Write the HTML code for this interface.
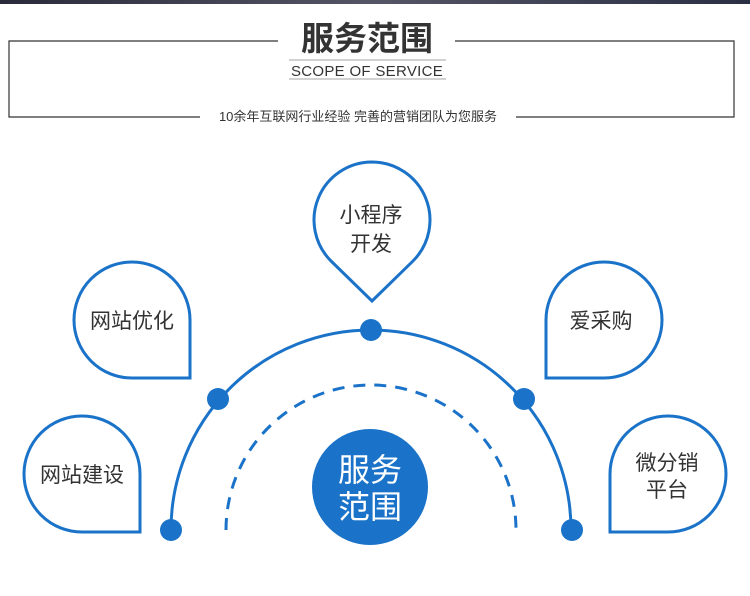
<!DOCTYPE html>
<html><head><meta charset="utf-8"><style>
html,body{margin:0;padding:0;background:#fff;}
body{width:750px;height:596px;overflow:hidden;position:relative;font-family:"Liberation Sans","Noto Sans CJK SC",sans-serif;}
</style></head><body>
<svg width="750" height="596" viewBox="0 0 750 596" xmlns="http://www.w3.org/2000/svg" style="position:absolute;left:0;top:0">
<defs><linearGradient id="g" x1="0" x2="1"><stop offset="0" stop-color="#2a2a3a"/><stop offset="0.5" stop-color="#556"/><stop offset="1" stop-color="#2a2f44"/></linearGradient></defs>
<rect x="0" y="0" width="750" height="4" fill="url(#g)"/>
<g stroke="#333" stroke-width="1.2" fill="none">
<path d="M278 41H9V117H200"/>
<path d="M455 41H734V117H516"/>
<line x1="289" y1="60" x2="446" y2="60" stroke="#888" stroke-width="0.8"/>
<line x1="289" y1="79" x2="446" y2="79" stroke="#888" stroke-width="0.8"/>
</g>
<text x="367" y="50" text-anchor="middle" font-size="33" font-weight="bold" fill="#333" font-family="Noto Sans CJK SC, sans-serif">服务范围</text>
<text x="367" y="76" text-anchor="middle" font-size="15" fill="#333" letter-spacing="0.3">SCOPE  OF  SERVICE</text>
<text x="358" y="121" text-anchor="middle" font-size="13" fill="#333" font-family="Liberation Sans, Noto Sans CJK SC, sans-serif">10余年互联网行业经验  完善的营销团队为您服务</text>

<g stroke="#1a73c8" stroke-width="3" fill="#fff">
<path d="M132 262A58 58 0 0 0 74 320A58 58 0 0 0 132 378H190V320A58 58 0 0 0 132 262Z"/>
<path d="M82 416A58 58 0 0 0 24 474A58 58 0 0 0 82 532H140V474A58 58 0 0 0 82 416Z"/>
<path d="M604 262A58 58 0 0 1 662 320A58 58 0 0 1 604 378H546V320A58 58 0 0 1 604 262Z"/>
<path d="M668 416A58 58 0 0 1 726 474A58 58 0 0 1 668 532H610V474A58 58 0 0 1 668 416Z"/>
<path d="M372 162A58 58 0 0 1 413 261L372 301L331 261A58 58 0 0 1 372 162Z"/>
</g>
<path d="M171 530A200 200 0 0 1 571 530" stroke="#1a73c8" stroke-width="3" fill="none"/>
<path d="M226 530A145 145 0 0 1 516 530" stroke="#1a73c8" stroke-width="3" fill="none" stroke-dasharray="12 9"/>
<g fill="#1a73c8">
<circle cx="371" cy="330" r="11"/>
<circle cx="218" cy="399" r="11"/>
<circle cx="524" cy="399" r="11"/>
<circle cx="171" cy="530" r="11"/>
<circle cx="572" cy="530" r="11"/>
<circle cx="370" cy="487" r="58"/>
</g>
<g font-size="21" fill="#333" text-anchor="middle" font-family="Noto Sans CJK SC, sans-serif">
<text x="132" y="328">网站优化</text>
<text x="82" y="482">网站建设</text>
<text x="601" y="328">爱采购</text>
<text x="667" y="470">微分销</text>
<text x="667" y="497">平台</text>
<text x="371" y="222">小程序</text>
<text x="371" y="251">开发</text>
</g>
<g font-size="32" fill="#fff" text-anchor="middle" font-family="Noto Sans CJK SC, sans-serif">
<text x="370" y="481">服务</text>
<text x="370" y="518">范围</text>
</g>
</svg>
</body></html>
